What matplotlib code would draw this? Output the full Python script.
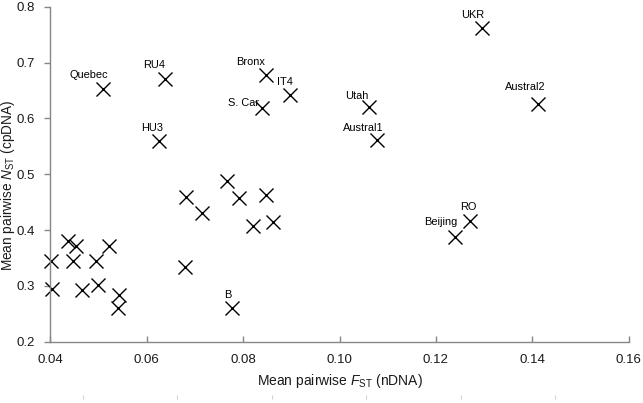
import matplotlib
matplotlib.use("Agg")
import matplotlib.pyplot as plt

plt.rcParams['font.family'] = ['Liberation Sans', 'DejaVu Sans']
plt.rcParams['mathtext.fontset'] = 'custom'
plt.rcParams['mathtext.rm'] = 'Liberation Sans'
plt.rcParams['mathtext.it'] = 'Liberation Sans:italic'

# Labelled populations
labels = ["Quebec", "RU4", "Bronx", "IT4", "S. Car", "HU3", "UKR",
          "Austral2", "Utah", "Austral1", "RO", "Beijing", "B"]
labelled_fst = [0.0509, 0.0638, 0.0847, 0.0897, 0.0840, 0.0626, 0.1295,
                0.1411, 0.1062, 0.1078, 0.1270, 0.1240, 0.0778]
labelled_nst = [0.652, 0.670, 0.677, 0.642, 0.618, 0.559, 0.761,
                0.626, 0.620, 0.561, 0.417, 0.388, 0.260]

# Unlabelled populations
other_fst = [0.0766, 0.0681, 0.0791, 0.0847, 0.0715, 0.0820, 0.0863,
             0.0437, 0.0453, 0.0521, 0.0401, 0.0447, 0.0495, 0.0680,
             0.0404, 0.0465, 0.0500, 0.0543, 0.0540]
other_nst = [0.488, 0.459, 0.458, 0.463, 0.430, 0.407, 0.414,
             0.380, 0.372, 0.371, 0.345, 0.345, 0.344, 0.333,
             0.294, 0.293, 0.3015, 0.284, 0.261]

x_ticks = [0.04, 0.06, 0.08, 0.10, 0.12, 0.14, 0.16]
y_ticks = [0.2, 0.3, 0.4, 0.5, 0.6, 0.7, 0.8]

# label offsets in pixels (text centre relative to marker)
label_offsets = {
    "Quebec": (-14, 14), "RU4": (-11, 14), "Bronx": (-15, 13),
    "IT4": (-5, 13), "S. Car": (-19, 5), "HU3": (-7, 13),
    "UKR": (-9, 13), "Austral2": (-12, 17), "Utah": (-13, 11),
    "Austral1": (-14, 12), "RO": (-1, 14), "Beijing": (-14, 15),
    "B": (-5, 13),
}

fig = plt.figure(figsize=(6.43, 4.03), dpi=100)
ax = fig.add_axes([0.0782, 0.1521, 0.8996, 0.8313])

all_x = labelled_fst + other_fst
all_y = labelled_nst + other_nst
ax.plot(all_x, all_y, linestyle='none', marker='x', markersize=9.5,
        markeredgewidth=1.0, color='black', clip_on=False)

for name, xv, yv in zip(labels, labelled_fst, labelled_nst):
    dx, dy = label_offsets[name]
    ax.annotate(name, (xv, yv), xytext=(dx, dy), textcoords='offset pixels',
                ha='center', va='center', fontsize=7.9, color='black')

ax.set_xlim(0.04, 0.16)
ax.set_ylim(0.2, 0.8)
ax.set_xticks(x_ticks)
ax.set_yticks(y_ticks)
ax.set_xticklabels([f"{v:.2f}" for v in x_ticks])
ax.set_yticklabels([f"{v:.1f}" for v in y_ticks])

spine_col = '#868686'
for s in ['top', 'right']:
    ax.spines[s].set_visible(False)
for s in ['left', 'bottom']:
    ax.spines[s].set_color(spine_col)
    ax.spines[s].set_linewidth(1.0)

ax.tick_params(axis='x', direction='in', length=4, width=1.0, color=spine_col,
               labelsize=9.5, pad=9, labelcolor='#1a1a1a')
ax.tick_params(axis='y', direction='out', length=4, width=1.0, color=spine_col,
               labelsize=9.5, pad=7, labelcolor='#1a1a1a')

ax.set_xlabel(r'Mean pairwise $\mathit{F}_{\mathrm{ST}}$ (nDNA)', fontsize=10,
              color='#1a1a1a', labelpad=4)
ax.set_ylabel(r'Mean pairwise $\mathit{N}_{\mathrm{ST}}$ (cpDNA)', fontsize=9.8,
              color='#1a1a1a')
ax.yaxis.set_label_coords(-0.058, 0.466)

# faint stray tick marks along the bottom edge of the picture
ax2 = fig.add_axes([82.7 / 643, 1 - 399 / 403, (555 - 82.7) / 643, 0.0001])
ax2.set_xlim(0, 5)
ax2.set_xticks(range(6))
ax2.set_yticks([])
ax2.set_xticklabels([])
ax2.tick_params(axis='x', direction='in', length=3, width=0.8, color='#d0d0d0')
for s in ax2.spines.values():
    s.set_visible(False)
ax2.patch.set_visible(False)

fig.savefig("out.png", dpi=100)
